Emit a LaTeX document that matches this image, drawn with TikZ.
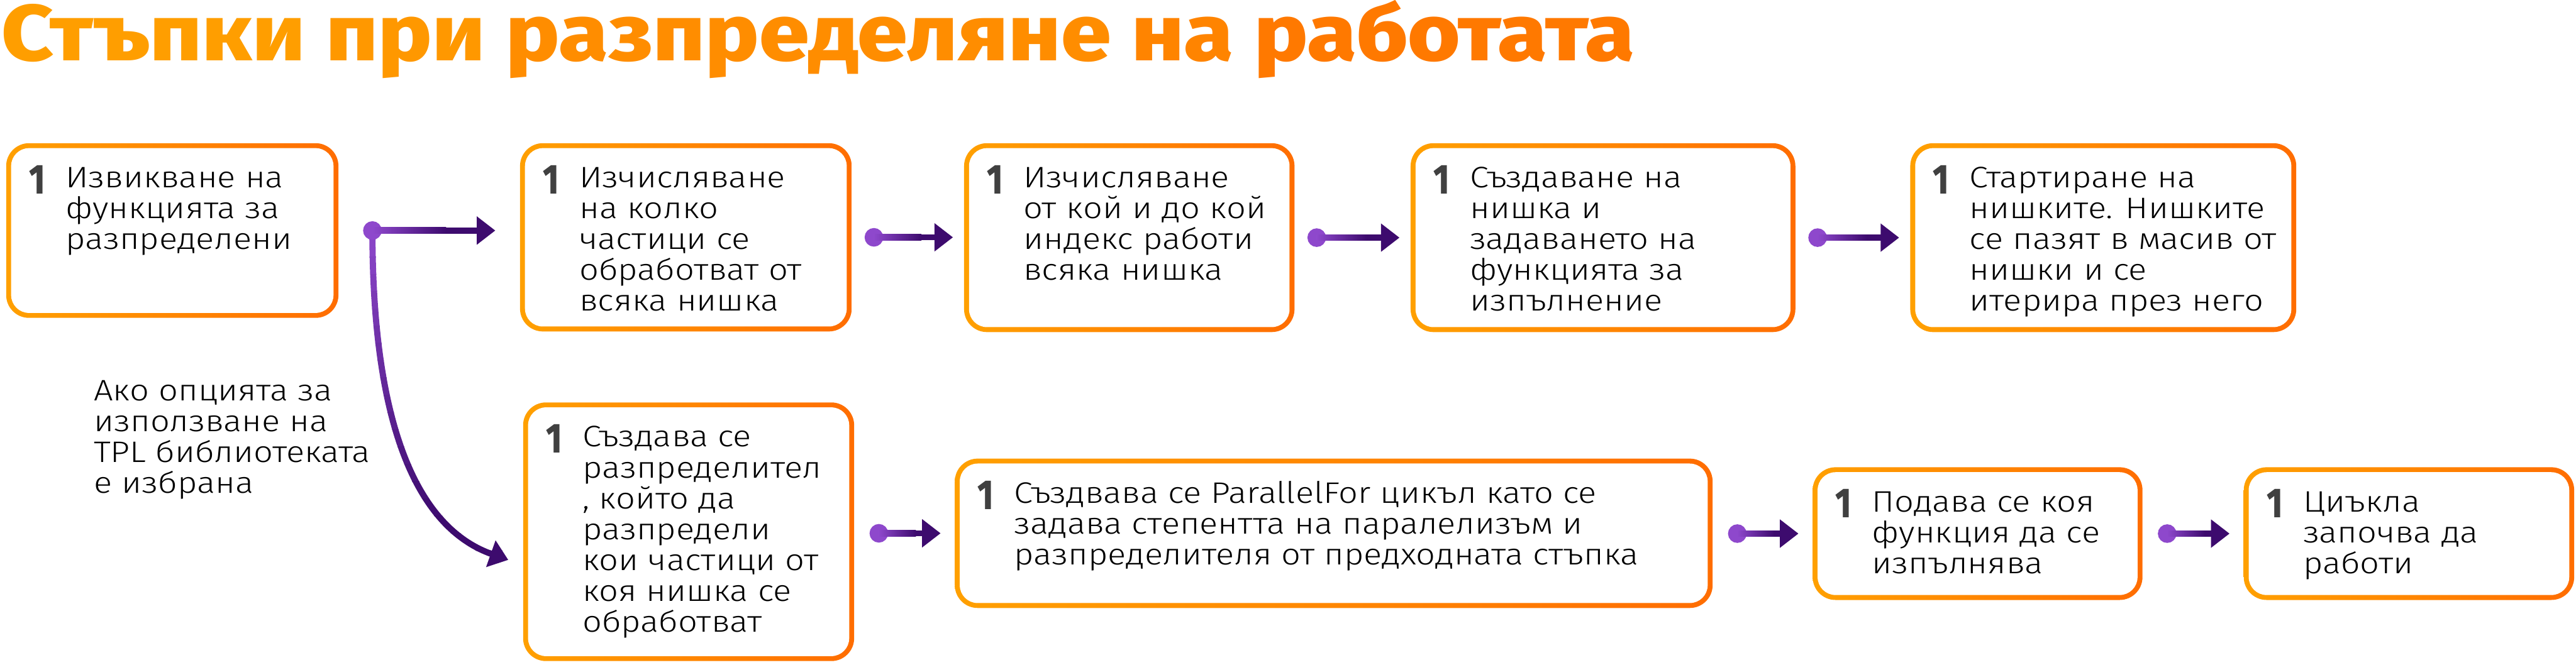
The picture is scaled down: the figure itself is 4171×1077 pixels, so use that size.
\documentclass[tikz,border=0pt]{standalone}
\usepackage{fontspec}
\setmainfont{Fira Sans}[UprightFont=* Light, BoldFont=* ExtraBold, FakeStretch=1.15]
\newfontfamily\numfont{Fira Sans}[UprightFont=* ExtraBold]
\newfontfamily\titlefont{Fira Sans}[UprightFont=* ExtraBold]
\usetikzlibrary{arrows.meta,calc}
\definecolor{oA}{HTML}{FFA000}
\definecolor{oB}{HTML}{FF6D00}
\definecolor{tA}{HTML}{FFA100}
\definecolor{tB}{HTML}{FF7400}
\definecolor{plight}{HTML}{8E48CC}
\definecolor{pdark}{HTML}{3D0B6E}
\definecolor{numgray}{HTML}{404040}
\newcommand\stepcontent[3]{%
  \parbox[c][#2][t]{#1}{\hspace*{9.25pt}\makebox[14.75pt][l]{\raisebox{-2.5pt}{\color{numgray}\resizebox{6.5pt}{11.5pt}{\numfont 1}}}%
  \parbox[t]{\dimexpr#1-26pt\relax}{\raggedright\rule{0pt}{18pt}#3}}}
\newcommand\gconn[2]{%
  \draw[conn] (#1) -- (#2);
  \shade[left color=plight, right color=pdark] ($(#1)+(0pt,-1.25pt)$) rectangle ($(#1)!0.6!(#2)+(0pt,1.25pt)$);}
\tikzset{
  stepbox/.style={inner sep=0pt, outer sep=0pt, rounded corners=9.25pt,
    left color=oA, right color=oB, text=black,
    font=\fontsize{12pt}{12.5pt}\selectfont,
    path picture={\fill[white, rounded corners=7.25pt]
      ([shift={(2pt,2pt)}]path picture bounding box.south west) rectangle
      ([shift={(-2pt,-2pt)}]path picture bounding box.north east);}},
  conn/.style={line width=2.5pt, draw=pdark, shorten <=-3.75pt,
    {Circle[length=7.5pt,width=7.5pt,color=plight]}-{Triangle[length=7.5pt,width=11pt]}},
  curveconn/.style={line width=2.5pt, -{Triangle[length=7.5pt,width=11pt]}},
  note/.style={inner sep=0pt, anchor=base west, font=\fontsize{12pt}{12.5pt}\selectfont},
}
\begin{document}
\begin{tikzpicture}[x=0.25pt, y=-0.25pt]
\fill[white] (0,0) rectangle (4171,1077);
\useasboundingbox (0,0) rectangle (4171,1077);

% title
\node[inner sep=0pt, anchor=base west] (title) at (2,98) {\resizebox{661pt}{24.5pt}{\titlefont\fontsize{33pt}{36pt}\selectfont
  \textcolor{tB!6!tA}{Стъпки} \textcolor{tB!20!tA}{при} \textcolor{tB!45!tA}{разпределяне} \textcolor{tB!65!tA}{на} \textcolor{tB!88!tA}{работата}}};

% top row
\node[stepbox] (b1) at (279,373.5) {\stepcontent{134.5pt}{70.75pt}{Извикване на\\функцията за\\разпределени}};
\node[stepbox] (b2) at (1110.5,384.5) {\stepcontent{134.25pt}{76.25pt}{Изчисляване\\на колко\\частици се\\обработват от\\всяка нишка}};
\node[stepbox] (b3) at (1828.5,385) {\stepcontent{133.75pt}{76.5pt}{Изчисляване\\от кой и до кой\\индекс работи\\всяка нишка}};
\node[stepbox] (b4) at (2595.5,385) {\stepcontent{155.75pt}{76.5pt}{Създаване на\\нишка и\\задаването на\\функцията за\\изпълнение}};
\node[stepbox] (b5) at (3405.5,385) {\stepcontent{156.25pt}{76.5pt}{Стартиране на\\нишките. Нишките\\се пазят в масив от\\нишки и се\\итерира през него}};

% bottom row
\node[stepbox] (b6) at (1115,861.5) {\stepcontent{134pt}{104.75pt}{Създава се\\разпределител\\, който да\\разпредели\\кои частици от\\коя нишка се\\обработват}};
\node[stepbox] (b7) at (2159.5,864) {\stepcontent{306.75pt}{60.5pt}{Създвава се ParallelFor цикъл като се\\задава степентта на паралелизъм и\\разпределителя от предходната стъпка}};
\node[stepbox] (b8) at (3202,864.5) {\stepcontent{133.5pt}{53.75pt}{Подава се коя\\функция да се\\изпълнява}};
\node[stepbox] (b9) at (3900.5,864.5) {\stepcontent{133.75pt}{53.75pt}{Циъкла\\започва да\\работи}};

% note
\node[note] (lbl) at (151,649) {\parbox[t]{135pt}{\raggedright Ако опцията за\\използване на\\TPL библиотеката\\е избрана}};

% connectors
\coordinate (fork) at ([xshift=13.75pt]b1.east);
\coordinate (cend) at ([xshift=-6pt,yshift=-11.4pt]b6.west);
\foreach \i in {0,...,20} {
  \pgfmathsetmacro\yA{360+\i*28}
  \pgfmathsetmacro\yB{\yA+28.5}
  \pgfmathtruncatemacro\pc{min(100,\i*6)}
  \begin{scope}
    \clip (500,\yA) rectangle (900,\yB);
    \draw[curveconn, draw=pdark!\pc!plight] (fork) .. controls +(0,347) and +(-133,-47) .. (cend);
  \end{scope}
}
\path (fork -| b2.west) ++(-10pt,0pt) coordinate (t1);
\gconn{fork}{t1}

\coordinate (s2) at ([xshift=9pt]b2.east);
\path (s2 -| b3.west) ++(-4.5pt,0pt) coordinate (t2);
\gconn{s2}{t2}
\coordinate (s3) at ([xshift=9pt]b3.east);
\path (s3 -| b4.west) ++(-4.5pt,0pt) coordinate (t3);
\gconn{s3}{t3}
\coordinate (s4) at ([xshift=9pt]b4.east);
\path (s4 -| b5.west) ++(-4.5pt,0pt) coordinate (t4);
\gconn{s4}{t4}

\path (b6.east |- b7.west) ++(10pt,0pt) coordinate (s6);
\path (b7.west) ++(-5.75pt,0pt) coordinate (t6);
\gconn{s6}{t6}
\path (b7.east |- b8.west) ++(10pt,0pt) coordinate (s7);
\path (b8.west) ++(-5.75pt,0pt) coordinate (t7);
\gconn{s7}{t7}
\path (b8.east) ++(10pt,0pt) coordinate (s8);
\path (b9.west) ++(-5.75pt,0pt) coordinate (t8);
\gconn{s8}{t8}
\end{tikzpicture}
\end{document}
